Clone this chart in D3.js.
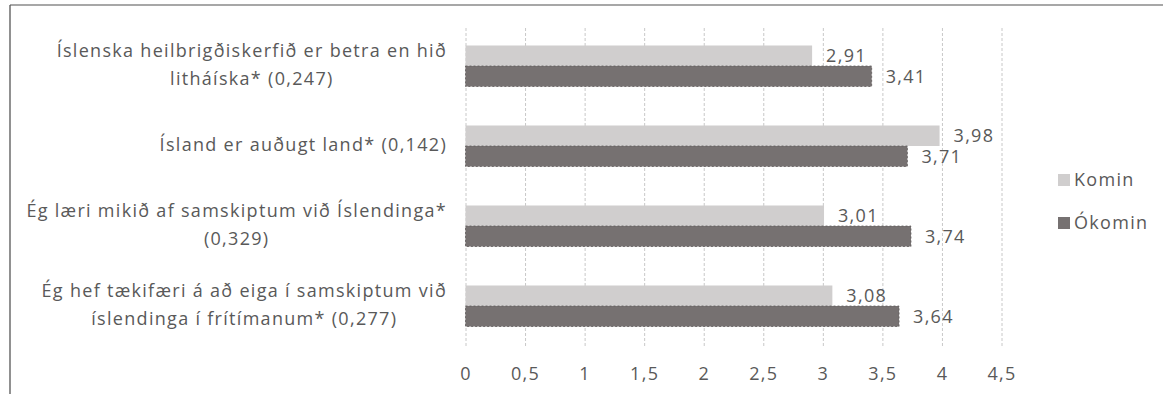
<!DOCTYPE html>
<html><head><meta charset="utf-8">
<script src="https://cdn.jsdelivr.net/npm/d3@7"></script>
<style>
html,body{margin:0;padding:0;background:#fff;}
svg{display:block;}
text{font-family:"Open Sans",sans-serif;fill:#595959;}
</style></head>
<body>
<svg id="chart" width="1163" height="394"></svg>
<script>
const categories = [
  ["Íslenska heilbrigðiskerfið er betra en hið", "litháíska* (0,247)"],
  ["Ísland er auðugt land* (0,142)"],
  ["Ég læri mikið af samskiptum við Íslendinga*", "(0,329)"],
  ["Ég hef tækifæri á að eiga í samskiptum við", "íslendinga í frítímanum* (0,277)"]
];
const seriesNames = ["Komin", "Ókomin"];
const komin = [2.91, 3.98, 3.01, 3.08];
const okomin = [3.41, 3.71, 3.74, 3.64];
const xTicks = [0, 0.5, 1, 1.5, 2, 2.5, 3, 3.5, 4, 4.5];
const colors = ["#d0cece", "#767171"];

const FS = 18, LS = "1.3px";
const svg = d3.select("#chart");
const fmt = v => String(v).replace(".", ",");

// frame
svg.append("line").attr("x1", 10).attr("x2", 1163).attr("y1", 5).attr("y2", 5)
  .attr("stroke", "#8a8a8a").attr("stroke-width", 1.5);
svg.append("line").attr("x1", 10).attr("x2", 10).attr("y1", 5).attr("y2", 394)
  .attr("stroke", "#555").attr("stroke-width", 1.3);

const x = d3.scaleLinear().domain([0, 4.5]).range([465.5, 1001.5]);
const idx = d3.range(categories.length);
const y = d3.scaleBand().domain(idx).range([26, 346]).paddingInner(0.4875).paddingOuter(0.24375);
const ySub = d3.scaleBand().domain(seriesNames).range([0, y.bandwidth()]);

// gridlines + tick labels via axis
const axis = d3.axisBottom(x).tickValues(xTicks).tickFormat(fmt).tickSize(-(346 - 26)).tickPadding(21);
const gAxis = svg.append("g").attr("transform", "translate(0,346)").call(axis);
gAxis.select(".domain").remove();
gAxis.selectAll(".tick line").attr("stroke", "#c8c8c8").attr("stroke-dasharray", "3,2").attr("stroke-width", 1);
gAxis.selectAll(".tick text").attr("font-size", FS).attr("fill", "#595959").attr("letter-spacing", LS)
  .style("font-family", '"Open Sans",sans-serif');

const data = idx.map(i => ({i, vals: [komin[i], okomin[i]]}));
const groups = svg.append("g").selectAll("g").data(data).join("g")
  .attr("transform", d => `translate(0,${y(d.i)})`);

groups.selectAll("rect").data(d => d.vals.map((v, s) => ({v, s}))).join("rect")
  .attr("x", x(0))
  .attr("y", d => ySub(seriesNames[d.s]))
  .attr("width", d => x(d.v) - x(0))
  .attr("height", ySub.bandwidth())
  .attr("fill", d => colors[d.s])
  .attr("stroke", d => d.s === 1 ? "#5e5a5a" : "none")
  .attr("stroke-width", 0.8)
  .attr("stroke-dasharray", "2,2");

groups.selectAll("text.val").data(d => d.vals.map((v, s) => ({v, s}))).join("text")
  .attr("class", "val")
  .attr("x", d => x(d.v) + 14)
  .attr("y", d => ySub(seriesNames[d.s]) + ySub.bandwidth() / 2)
  .attr("dy", "0.35em")
  .attr("font-size", FS)
  .attr("letter-spacing", LS)
  .attr("fill", "#404040")
  .text(d => fmt(d.v));

// category labels: block centered on longest line, right-aligned at 447
const labRight = 447, lineH = 28;
const cats = svg.append("g").selectAll("text").data(idx).join("text")
  .attr("font-size", FS).attr("letter-spacing", LS).attr("text-anchor", "middle");
cats.each(function(i) {
  const t = d3.select(this);
  const lines = categories[i];
  const cy = y(i) + y.bandwidth() / 2;
  let w = 0;
  lines.forEach((ln, k) => {
    const sp = t.append("tspan").attr("x", 0)
      .attr("y", cy + (k - (lines.length - 1) / 2) * lineH).attr("dy", "0.3em").text(ln);
    w = Math.max(w, sp.node().getComputedTextLength());
  });
  t.selectAll("tspan").attr("x", labRight - w / 2);
});

// legend
const leg = svg.append("g").selectAll("g").data(seriesNames).join("g")
  .attr("transform", (d, k) => `translate(1058,${180 + k * 43})`);
leg.append("rect").attr("x", 0).attr("y", -6).attr("width", 12).attr("height", 12)
  .attr("fill", (d, k) => colors[k]);
leg.append("text").attr("x", 16).attr("dy", "0.35em").attr("font-size", FS).attr("letter-spacing", LS).text(d => d);
</script>
</body></html>
